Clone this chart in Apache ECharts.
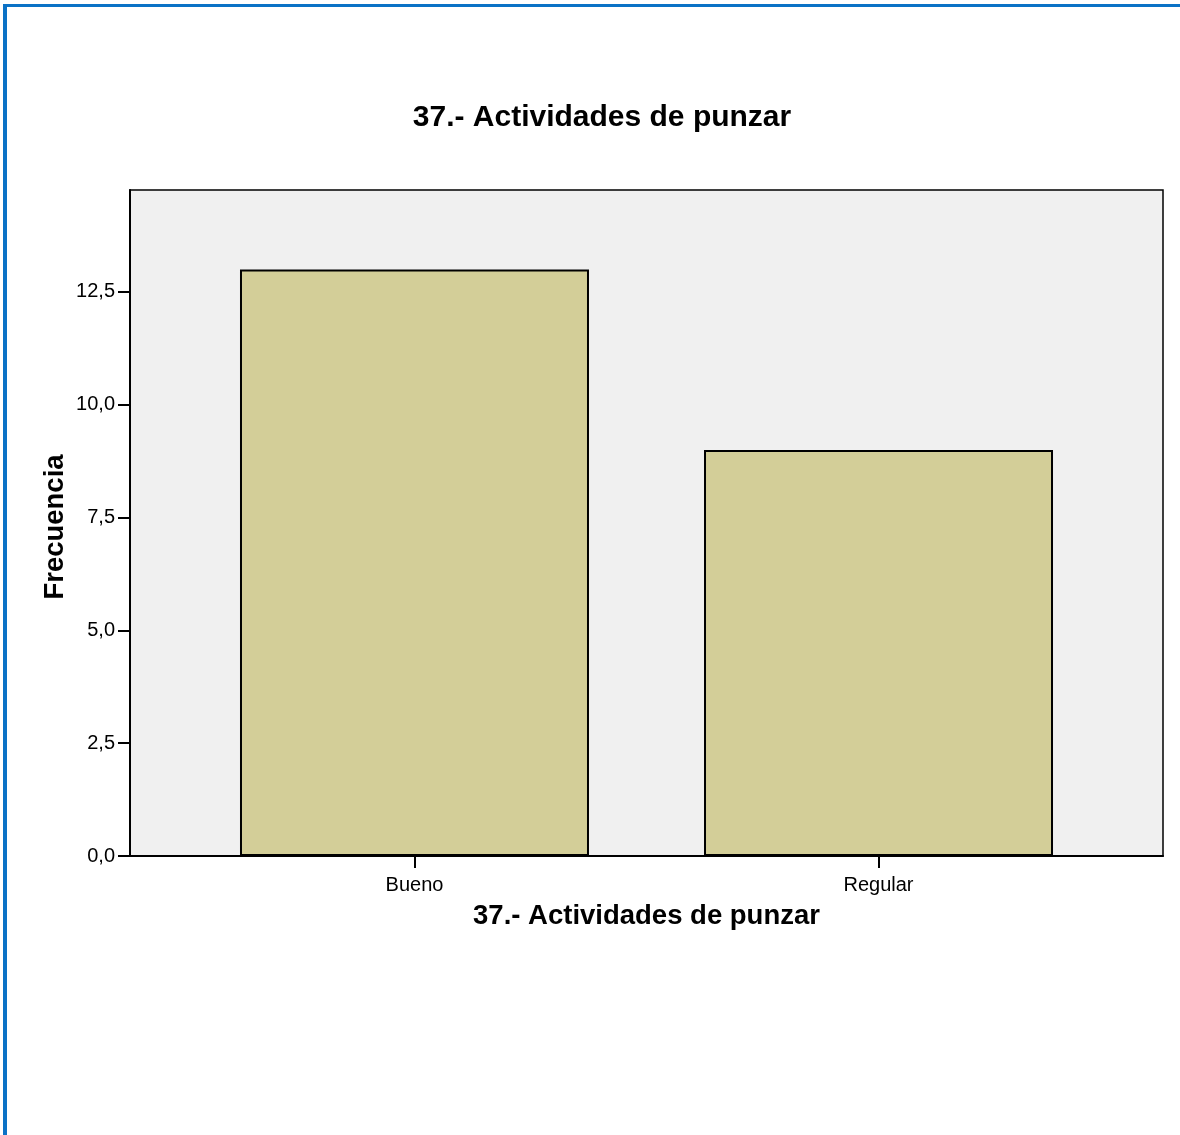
<!DOCTYPE html>
<html>
<head>
<meta charset="utf-8">
<script src="https://cdn.jsdelivr.net/npm/echarts@6/dist/echarts.min.js"></script>
<style>
html,body{margin:0;padding:0;background:#fff;}
#chart{width:1180px;height:1135px;}
</style>
</head>
<body>
<div id="chart"></div>
<script>
const titleText = "37.- Actividades de punzar";
const xAxisTitle = "37.- Actividades de punzar";
const yAxisTitle = "Frecuencia";
const categories = ["Bueno", "Regular"];
const frequencies = [13, 9];
const yTicks = [0, 2.5, 5, 7.5, 10, 12.5];

const FONT = 'Arial, "Liberation Sans", sans-serif';
const chart = echarts.init(document.getElementById('chart'), null, {renderer: 'canvas'});
const fmt = v => v.toFixed(1).replace('.', ',');

chart.setOption({
  animation: false,
  backgroundColor: '#ffffff',
  title: {
    text: titleText,
    left: 597, top: 98, textAlign: 'center',
    textStyle: {fontFamily: FONT, fontSize: 30, fontWeight: 'bold', color: '#000'}
  },
  graphic: [
    {type: 'rect', shape: {x: 3, y: 4, width: 4, height: 1131}, style: {fill: '#0B72C6'}},
    {type: 'rect', shape: {x: 3, y: 4, width: 1177, height: 3}, style: {fill: '#0B72C6'}},
    {type: 'text', x: 55, y: 527, rotation: Math.PI / 2,
     style: {text: yAxisTitle, fontFamily: FONT, fontSize: 27.5, fontWeight: 'bold', fill: '#000',
             align: 'center', verticalAlign: 'middle'}}
  ],
  grid: {
    left: 130, top: 190, right: 17, bottom: 279,
    show: true, backgroundColor: '#F0F0F0', borderColor: '#000', borderWidth: 1.5
  },
  xAxis: {
    type: 'value',
    min: -0.6131, max: 1.6131,
    name: xAxisTitle, nameLocation: 'middle', nameGap: 46,
    nameTextStyle: {fontFamily: FONT, fontSize: 27.5, fontWeight: 'bold', color: '#000'},
    axisLine: {show: true, onZero: false, lineStyle: {color: '#000', width: 2}},
    axisTick: {show: true, customValues: [0, 1], length: 12, lineStyle: {color: '#000', width: 2}},
    axisLabel: {
      customValues: [0, 1], margin: 19,
      formatter: v => categories[Math.round(v)] || '',
      fontFamily: FONT, fontSize: 20, color: '#000'
    },
    splitLine: {show: false}
  },
  yAxis: {
    type: 'value',
    min: 0, max: 14.76,
    axisLine: {show: true, onZero: false, lineStyle: {color: '#000', width: 2}},
    axisTick: {show: true, customValues: yTicks, length: 12, lineStyle: {color: '#000', width: 2}},
    axisLabel: {
      customValues: yTicks, margin: 15, formatter: v => fmt(v),
      fontFamily: FONT, fontSize: 20, color: '#000'
    },
    splitLine: {show: false}
  },
  series: [{
    type: 'bar',
    barWidth: 349,
    data: categories.map((c, i) => [i, frequencies[i]]),
    itemStyle: {color: '#D3CE98', borderColor: '#000', borderWidth: 2}
  }]
});
</script>
</body>
</html>
